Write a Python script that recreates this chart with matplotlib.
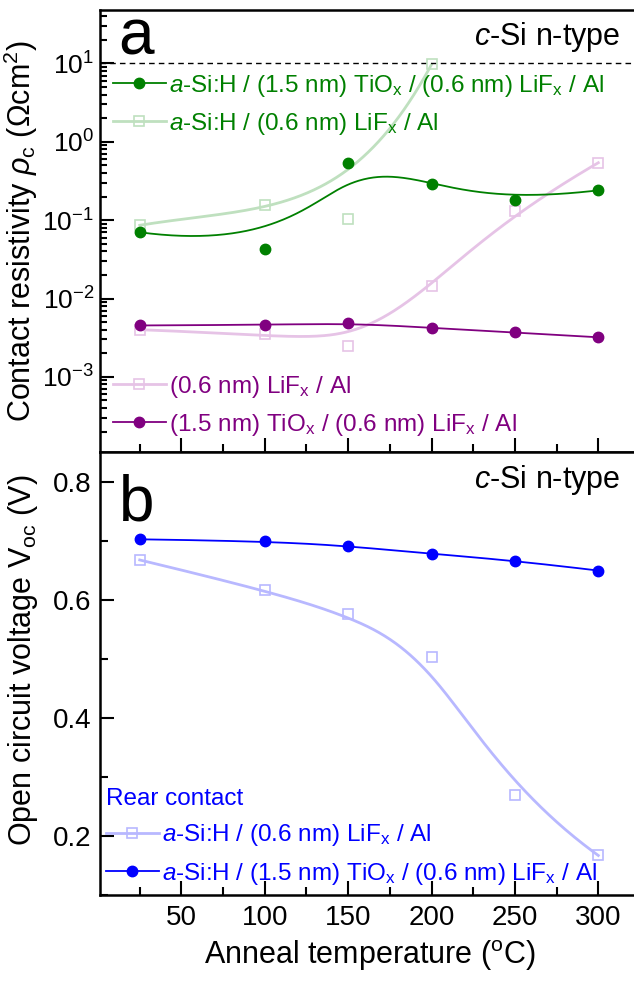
"""
Contact resistivity and Voc vs anneal temperature (two stacked panels).
"""
import numpy as np
import matplotlib
matplotlib.use("Agg")
import matplotlib.pyplot as plt
import matplotlib.ticker as mticker
from matplotlib.lines import Line2D

plt.rcParams.update({
    "font.family": ["Liberation Sans", "DejaVu Sans"],
    "mathtext.fontset": "custom",
    "mathtext.rm": "Liberation Sans",
    "mathtext.it": "Liberation Sans:italic",
    "mathtext.bf": "Liberation Sans:bold",
    "axes.linewidth": 1.8,
})

# ---- data ----
temp = [25, 100, 150, 200, 250, 300]
temp_open_green = [25, 100, 150, 200]

rho_asi_tiox_lif = [0.070, 0.043, 0.54, 0.286, 0.18, 0.24]      # filled green
rho_asi_lif = [0.086, 0.155, 0.103, 9.7]                         # open green
rho_lif = [0.0040, 0.00348, 0.00247, 0.0144, 0.13, 0.54]         # open purple
rho_tiox_lif = [0.00453, 0.0046, 0.0049, 0.0042, 0.0037, 0.0032] # filled purple

voc_asi_tiox_lif = [0.703, 0.700, 0.692, 0.678, 0.667, 0.650]    # filled blue
voc_asi_lif = [0.668, 0.617, 0.576, 0.503, 0.269, 0.167]         # open blue

LBL_ASI_TIOX = r"$\it{a}$-Si:H / (1.5 nm) TiO$_{\rm x}$ / (0.6 nm) LiF$_{\rm x}$ / Al"
LBL_ASI_LIF = r"$\it{a}$-Si:H / (0.6 nm) LiF$_{\rm x}$ / Al"
LBL_LIF = r"(0.6 nm) LiF$_{\rm x}$ / Al"
LBL_TIOX = r"(1.5 nm) TiO$_{\rm x}$ / (0.6 nm) LiF$_{\rm x}$ / Al"

GREEN, GREEN_L = "#008000", "#bfe0bf"
PURPLE, PURPLE_L = "#800080", "#e6c3e6"
BLUE, BLUE_L = "#0000ff", "#b8b8ff"


def bspline(xs, ys, n=300, k=3):
    """Clamped B-spline using the points as control points (Origin style)."""
    P = np.column_stack([xs, ys]).astype(float)
    m = len(P)
    k = min(k, m - 1)
    knots = np.concatenate([np.zeros(k), np.linspace(0, 1, m - k + 1), np.ones(k)])
    t = np.linspace(0, 1, n)
    B = np.zeros((n, len(knots) - 1))
    for i in range(len(knots) - 1):
        B[:, i] = (knots[i] <= t) & (t < knots[i + 1])
    last = np.nonzero(knots[:-1] < knots[1:])[0][-1]
    B[t >= 1, :] = 0
    B[t >= 1, last] = 1
    for p in range(1, k + 1):
        Bn = np.zeros((n, len(knots) - 1 - p))
        for i in range(len(knots) - 1 - p):
            d1 = knots[i + p] - knots[i]
            d2 = knots[i + p + 1] - knots[i + 1]
            a = (t - knots[i]) / d1 * B[:, i] if d1 > 0 else 0
            b = (knots[i + p + 1] - t) / d2 * B[:, i + 1] if d2 > 0 else 0
            Bn[:, i] = a + b
        B = Bn
    C = B @ P
    return C[:, 0], C[:, 1]


def log_curve(ax, xs, ys, **kw):
    cx, cy = bspline(xs, np.log10(ys))
    ax.plot(cx, 10 ** cy, **kw)


W, H = 634, 981
fig = plt.figure(figsize=(W / 100, H / 100), dpi=100)
x0, x1 = 99.7, 640
ax1 = fig.add_axes([x0 / W, (H - 452) / H, (x1 - x0) / W, 442 / H])
ax2 = fig.add_axes([x0 / W, (H - 895) / H, (x1 - x0) / W, 443 / H])

FS_TICK, FS_LAB, FS_LEG, FS_CSI = 20, 22, 17.5, 22
mk_f = dict(marker="o", ms=7.5, linestyle="none")
mk_o = dict(marker="s", ms=6.5, linestyle="none", mfc="none", mew=1.2)
leg_kw = dict(frameon=False, fontsize=FS_LEG, handlelength=2.2, handletextpad=0.12,
              labelspacing=0.5, borderpad=0, borderaxespad=0)

# ---- panel a ----
log_curve(ax1, temp_open_green, rho_asi_lif, color=GREEN_L, lw=2, zorder=2)
log_curve(ax1, temp, rho_lif, color=PURPLE_L, lw=2, zorder=2)
log_curve(ax1, temp, rho_asi_tiox_lif, color=GREEN, lw=1.3, zorder=3)
log_curve(ax1, temp, rho_tiox_lif, color=PURPLE, lw=1.3, zorder=3)
ax1.plot(temp_open_green, rho_asi_lif, mec=GREEN_L, zorder=4, **mk_o)
ax1.plot(temp, rho_lif, mec=PURPLE_L, zorder=4, **mk_o)
ax1.plot(temp, rho_asi_tiox_lif, color=GREEN, zorder=5, **mk_f)
ax1.plot(temp, rho_tiox_lif, color=PURPLE, zorder=5, **mk_f)
ax1.axhline(10, color="black", ls="--", lw=1.0, dashes=(4, 3))

ax1.set_yscale("log")
ax1.set_ylim(1.1e-4, 48)
ax1.set_xlim(1, 325)
ax1.yaxis.set_major_locator(mticker.LogLocator(base=10, numticks=12))
ax1.yaxis.set_major_formatter(mticker.FuncFormatter(lambda v, p: r"$10^{%d}$" % round(np.log10(v))))
ax1.yaxis.set_minor_locator(mticker.LogLocator(base=10, subs=np.arange(2, 10), numticks=12))
ax1.yaxis.set_minor_formatter(mticker.NullFormatter())
ax1.xaxis.set_major_locator(mticker.MultipleLocator(50))
ax1.xaxis.set_minor_locator(mticker.MultipleLocator(25))
ax1.tick_params(axis="x", which="both", direction="in", labelbottom=False, width=1.5)
ax1.tick_params(axis="x", which="major", length=10)
ax1.tick_params(axis="x", which="minor", length=6)
ax1.tick_params(axis="y", which="both", direction="in", width=1.5, labelsize=FS_TICK - 1, pad=4)
ax1.tick_params(axis="y", which="major", length=10)
ax1.tick_params(axis="y", which="minor", length=5)
ax1.set_ylabel(r"Contact resistivity $\rho_{\rm c}$ ($\Omega$cm$^2$)", fontsize=FS_LAB)
ax1.yaxis.set_label_coords(-0.11, 0.5)

ax1.text(0.035, 0.9, "a", transform=ax1.transAxes, fontsize=46, va="baseline")
ax1.text(0.963, 0.921, r"$\it{c}$-Si n-type", transform=ax1.transAxes,
         fontsize=FS_CSI, ha="right", va="baseline")

h_gf = Line2D([], [], color=GREEN, lw=1.3, marker="o", ms=7.5)
h_go = Line2D([], [], color=GREEN_L, lw=2, marker="s", ms=6.5, mfc="none", mec=GREEN_L, mew=1.2)
leg1 = ax1.legend([h_gf, h_go], [LBL_ASI_TIOX, LBL_ASI_LIF], loc="center left",
                  bbox_to_anchor=(0.024, 0.786), labelcolor=[GREEN, GREEN], **leg_kw)
ax1.add_artist(leg1)
h_po = Line2D([], [], color=PURPLE_L, lw=2, marker="s", ms=6.5, mfc="none", mec=PURPLE_L, mew=1.2)
h_pf = Line2D([], [], color=PURPLE, lw=1.3, marker="o", ms=7.5)
ax1.legend([h_po, h_pf], [LBL_LIF, LBL_TIOX], loc="center left",
           bbox_to_anchor=(0.024, 0.105), labelcolor=[PURPLE, PURPLE], **leg_kw)

# ---- panel b ----
cx, cy = bspline(temp, voc_asi_lif)
ax2.plot(cx, cy, color=BLUE_L, lw=2, zorder=2)
cx, cy = bspline(temp, voc_asi_tiox_lif)
ax2.plot(cx, cy, color=BLUE, lw=1.3, zorder=3)
ax2.plot(temp, voc_asi_lif, mec=BLUE_L, zorder=4, **mk_o)
ax2.plot(temp, voc_asi_tiox_lif, color=BLUE, zorder=5, **mk_f)

ax2.set_xlim(1, 325)
ax2.set_ylim(0.1, 0.851)
ax2.yaxis.set_major_locator(mticker.MultipleLocator(0.2))
ax2.yaxis.set_minor_locator(mticker.MultipleLocator(0.1))
ax2.yaxis.set_major_formatter(mticker.FormatStrFormatter("%.1f"))
ax2.xaxis.set_major_locator(mticker.MultipleLocator(50))
ax2.xaxis.set_minor_locator(mticker.MultipleLocator(25))
ax2.xaxis.set_major_formatter(mticker.FuncFormatter(lambda v, p: f"{v:.0f}" if v > 0 else ""))
ax2.tick_params(axis="x", which="both", direction="in", width=1.5, labelsize=FS_TICK, pad=7)
ax2.tick_params(axis="x", which="major", length=10)
ax2.tick_params(axis="x", which="minor", length=6)
ax2.tick_params(axis="y", which="both", direction="in", width=1.5, labelsize=FS_TICK, pad=6)
ax2.tick_params(axis="y", which="major", length=10)
ax2.tick_params(axis="y", which="minor", length=6)
ax2.set_ylabel(r"Open circuit voltage V$_{\rm oc}$ (V)", fontsize=FS_LAB)
ax2.yaxis.set_label_coords(-0.11, 0.53)
ax2.set_xlabel(r"Anneal temperature ($^{\rm o}$C)", fontsize=FS_LAB, va="top")
ax2.xaxis.set_label_coords(0.5, -0.098)

ax2.text(0.035, 0.846, "b", transform=ax2.transAxes, fontsize=46, va="baseline")
ax2.text(0.963, 0.918, r"$\it{c}$-Si n-type", transform=ax2.transAxes,
         fontsize=FS_CSI, ha="right", va="baseline")

h_bo = Line2D([], [], color=BLUE_L, lw=2, marker="s", ms=6.5, mfc="none", mec=BLUE_L, mew=1.2)
h_bf = Line2D([], [], color=BLUE, lw=1.3, marker="o", ms=7.5)
leg3 = ax2.legend([h_bo, h_bf], [LBL_ASI_LIF, LBL_ASI_TIOX], loc="center left",
                  bbox_to_anchor=(0.011, 0.13), labelcolor=[BLUE, BLUE],
                  title="Rear contact", title_fontsize=FS_LEG, alignment="left", **leg_kw)
leg3.get_title().set_color(BLUE)

fig.savefig("out.png", dpi=100, facecolor="white")
